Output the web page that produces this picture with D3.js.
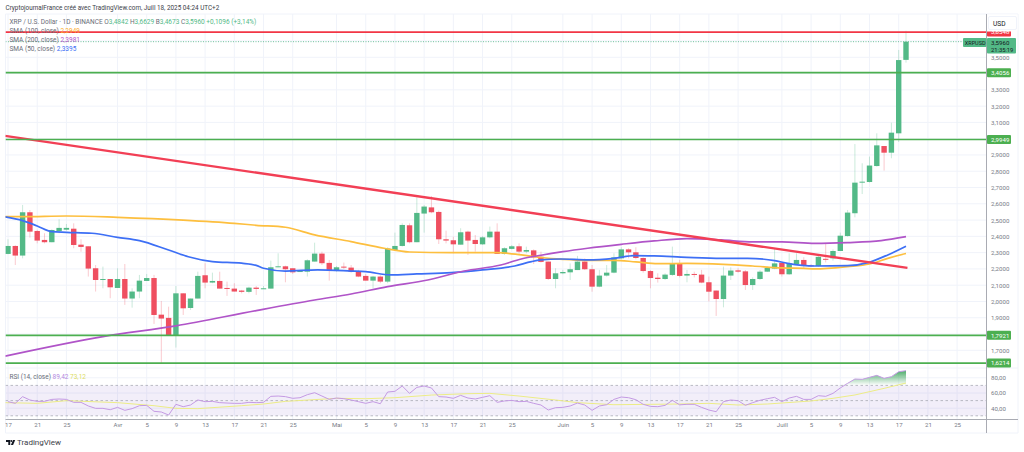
<!DOCTYPE html>
<html lang="fr">
<head>
  <meta charset="UTF-8">
  <title>XRP / U.S. Dollar</title>
  <script src="https://d3js.org/d3.v7.min.js"></script>
  <style>
    html, body { margin: 0; padding: 0; background: #fff; overflow: hidden; }
    svg { display: block; }
    text { font-family: Roboto, sans-serif; }
    .axis path, .axis line { display: none; }
    .axis text { font-size: 6.1px; fill: #787b86; font-family: Roboto, sans-serif; }
  </style>
</head>
<body>
  <script>
    // daily candles, one per day from 17 March (day 0) to 18 July (day 123)
    const opens = [
      2.292,2.341,2.282,2.548,2.433,2.378,2.364,2.433,2.441,2.447,
      2.349,2.339,2.204,2.132,2.138,2.083,2.138,2.018,2.061,2.126,
      2.144,1.919,1.899,1.788,2.050,1.960,2.018,2.161,2.116,2.126,
      2.083,2.079,2.067,2.059,2.085,2.077,2.079,2.210,2.216,2.204,
      2.183,2.183,2.245,2.294,2.237,2.187,2.214,2.208,2.183,2.157,
      2.128,2.153,2.122,2.316,2.341,2.468,2.364,2.540,2.578,2.550,
      2.382,2.376,2.349,2.429,2.378,2.351,2.394,2.429,2.292,2.323,
      2.339,2.306,2.314,2.275,2.245,2.138,2.173,2.179,2.193,2.245,
      2.198,2.091,2.159,2.177,2.265,2.320,2.302,2.267,2.187,2.146,
      2.138,2.163,2.234,2.159,2.169,2.165,2.118,2.067,2.015,2.159,
      2.191,2.185,2.101,2.138,2.183,2.202,2.238,2.167,2.229,2.255,
      2.222,2.218,2.262,2.265,2.310,2.402,2.542,2.732,2.734,2.832,
      2.955,2.914,3.033,3.4842];
    const highs = [
      2.382,2.345,2.593,2.562,2.440,2.419,2.443,2.505,2.476,2.480,
      2.382,2.339,2.224,2.214,2.138,2.204,2.230,2.081,2.163,2.169,
      2.163,2.003,1.968,2.095,2.050,2.018,2.183,2.235,2.177,2.183,
      2.122,2.112,2.071,2.091,2.095,2.095,2.251,2.296,2.220,2.204,
      2.190,2.259,2.361,2.306,2.255,2.218,2.239,2.224,2.194,2.169,
      2.157,2.161,2.333,2.423,2.480,2.480,2.640,2.593,2.648,2.558,
      2.435,2.398,2.450,2.435,2.408,2.402,2.460,2.480,2.333,2.347,
      2.357,2.337,2.320,2.306,2.245,2.204,2.194,2.234,2.280,2.265,
      2.224,2.194,2.224,2.296,2.333,2.327,2.333,2.271,2.193,2.173,
      2.173,2.337,2.255,2.194,2.183,2.194,2.153,2.067,2.214,2.210,
      2.204,2.193,2.148,2.193,2.214,2.327,2.245,2.296,2.296,2.272,
      2.230,2.286,2.353,2.320,2.423,2.562,2.967,2.849,2.890,3.033,
      2.955,3.098,3.545,3.6629];
    const lows = [
      2.290,2.224,2.265,2.392,2.357,2.357,2.364,2.419,2.435,2.327,
      2.306,2.153,2.061,2.081,2.020,2.083,1.979,1.962,2.020,2.126,
      1.862,1.620,1.788,1.717,1.917,1.948,2.018,2.081,2.112,2.079,
      2.034,2.061,2.050,2.050,2.040,2.077,2.079,2.210,2.118,2.169,
      2.181,2.153,2.245,2.224,2.128,2.183,2.200,2.177,2.149,2.128,
      2.081,2.112,2.112,2.316,2.337,2.357,2.364,2.423,2.542,2.353,
      2.357,2.296,2.349,2.286,2.306,2.347,2.388,2.292,2.286,2.320,
      2.292,2.296,2.230,2.239,2.132,2.081,2.167,2.132,2.193,2.193,
      2.060,2.087,2.153,2.173,2.259,2.265,2.259,2.177,2.081,2.116,
      2.132,2.157,2.148,2.118,2.148,2.112,2.000,1.911,1.964,2.132,
      2.177,2.071,2.071,2.132,2.181,2.198,2.153,2.163,2.224,2.204,
      2.212,2.214,2.240,2.251,2.310,2.398,2.517,2.660,2.730,2.828,
      2.804,2.880,2.980,3.4673];
    const closes = [
      2.341,2.282,2.548,2.429,2.374,2.364,2.439,2.452,2.452,2.347,
      2.335,2.202,2.132,2.138,2.087,2.138,2.018,2.061,2.128,2.144,
      1.917,1.895,1.788,2.050,1.958,2.018,2.157,2.116,2.126,2.079,
      2.079,2.061,2.059,2.085,2.077,2.081,2.210,2.216,2.198,2.179,
      2.187,2.253,2.294,2.235,2.187,2.210,2.208,2.183,2.153,2.128,
      2.153,2.122,2.325,2.341,2.470,2.364,2.544,2.583,2.548,2.382,
      2.374,2.351,2.425,2.374,2.353,2.394,2.429,2.292,2.327,2.339,
      2.306,2.316,2.271,2.243,2.138,2.173,2.181,2.198,2.245,2.198,
      2.091,2.159,2.177,2.271,2.320,2.302,2.267,2.187,2.144,2.138,
      2.165,2.234,2.157,2.169,2.165,2.116,2.060,2.015,2.159,2.190,
      2.183,2.101,2.138,2.183,2.206,2.234,2.167,2.234,2.255,2.218,
      2.216,2.274,2.258,2.310,2.404,2.546,2.730,2.736,2.835,2.959,
      2.914,3.037,3.483,3.596];

    // moving averages at the days listed
    const sma50Days = [-0.4,2,4,6,8,11.5,15,18,22,24.7,28,32,34,35,38,42.4,47,49,52.4,56,60.7,65,69.4,71.7,73,75.7,79.4,83,85.8,88.5,93,97.7,101.3,105,106.8,110.5,115,117.8,120.5,123];
    const sma50 = [2.520,2.497,2.464,2.429,2.425,2.419,2.394,2.374,2.316,2.275,2.245,2.235,2.222,2.204,2.187,2.194,2.187,2.183,2.163,2.169,2.177,2.194,2.218,2.245,2.255,2.261,2.255,2.265,2.282,2.280,2.271,2.265,2.265,2.251,2.234,2.218,2.220,2.239,2.286,2.3395];
    const sma100Days = [-0.4,2,8,15,24,31,34,38,42,47,51.5,55,60.7,67,70.3,73,76,79,83,86,89,93,98,102,106,109,110.5,115,118,120.5,123];
    const sma100 = [2.521,2.521,2.525,2.517,2.500,2.480,2.468,2.456,2.409,2.368,2.327,2.304,2.300,2.300,2.286,2.270,2.259,2.253,2.253,2.243,2.232,2.234,2.228,2.218,2.206,2.203,2.200,2.214,2.230,2.265,2.2949];
    const sma200Days = [-0.4,13,23,34,42,47,52,57.5,62.5,67.5,70.3,73,76,79.4,84,88.5,93,97.7,102,106,110.5,115,119.6,123];
    const sma200 = [1.664,1.784,1.850,1.944,2.009,2.046,2.091,2.132,2.187,2.224,2.261,2.284,2.306,2.327,2.351,2.372,2.386,2.378,2.366,2.366,2.357,2.362,2.374,2.3981];

    // drawn trend line and horizontal levels
    const trendDays = [-0.4, 123.2];
    const trendPrices = [3.017, 2.206];
    const greenLevels = [3.4056, 2.9949, 1.7921, 1.6214];
    const redLevel = 3.6548;
    const lastPrice = 3.596;

    // RSI pane
    const rsi = [
      48.6,46.4,55.2,50.8,49.0,49.0,51.6,52.1,51.6,47.7,47.7,42.9,39.8,39.8,38.0,41.1,37.2,39.4,43.3,43.7,
      35.9,35.0,31.0,45.1,42.0,44.2,50.8,48.6,49.0,47.3,46.8,46.4,46.4,47.7,47.3,47.7,55.6,56.0,55.2,53.0,
      53.8,57.8,60.4,56.0,51.6,53.4,52.5,50.8,48.6,46.4,48.6,45.9,61.3,62.2,69.2,59.5,67.4,69.2,66.6,55.2,
      54.7,53.0,56.9,53.4,52.1,54.3,56.5,47.7,49.5,50.3,48.6,49.0,46.4,44.2,37.6,40.7,41.1,42.9,46.8,44.2,
      37.2,42.9,44.6,51.6,54.7,53.8,51.2,45.1,42.4,42.0,43.7,50.3,44.4,45.1,45.1,41.1,37.6,35.4,48.6,50.8,
      49.9,43.8,47.3,50.4,52.5,54.3,48.6,53.4,55.6,51.6,51.6,56.5,55.6,59.5,66.6,72.7,78.4,78.0,80.6,83.2,
      79.3,81.5,88.0,89.42];
    const rsiMaDays = [-0.4,4,8,15,20,23,26,32,35,38,45,49,53,58,63,66,70,75,78,83,88,92,96,100,104,110,113,116,120,123];
    const rsiMa = [47.3,46.4,49.9,47.3,43.3,39.8,39.4,43.3,45.5,49.0,53.0,52.5,53.8,57.3,59.1,59.5,56.0,50.8,47.3,44.6,45.1,45.5,46.4,44.2,45.5,49.5,53.0,57.4,66.1,73.12];
    const rsiBands = [70, 50, 30];
    const rsiTicks = [80, 60, 40];

    // time axis
    const dayTicks = [0,4,8,15,19,23,27,31,35,39,45,49,53,57,61,65,69,76,80,84,88,92,96,100,106,110,114,118,122,126,130];
    const dayLabels = ["17","21","25","Avr","5","9","13","17","21","25","Mai","5","9","13","17","21","25","Juin","5","9","13","17","21","25","Juill","5","9","13","17","21","25"];

    // price axis
    const priceGrid = [3.6,3.5,3.4,3.3,3.2,3.1,3.0,2.9,2.8,2.7,2.6,2.5,2.4,2.3,2.2,2.1,2.0,1.9,1.8,1.7];
    const priceLabels = [3.5,3.3,3.2,3.1,2.9,2.8,2.7,2.6,2.5,2.4,2.3,2.2,2.1,2.0,1.9,1.7];

    const width = 1024, height = 452;
    const plotLeft = 5.5, plotRight = 986.5, plotTop = 14, paneBottom = 419.5, frameBottom = 433, frameRight = 1018;
    const green = "#53b987", red = "#ef4f60", levelGreen = "#4caf50", gridColor = "#f0f3fa";
    const comma = d => d.toFixed(4).replace(".", ",");

    const x = d3.scaleLinear().domain([0, 123]).range([8, 906]);
    const y = d3.scaleLinear().domain([1.7, 3.5]).range([350.3, 57.3]);
    const yRsi = d3.scaleLinear().domain([30, 70]).range([415.8, 385.4]);

    const svg = d3.select("body").append("svg")
      .attr("width", width)
      .attr("height", height);

    const defs = svg.append("defs");
    defs.append("clipPath").attr("id", "plot")
      .append("rect")
      .attr("x", plotLeft).attr("y", plotTop)
      .attr("width", plotRight - plotLeft).attr("height", 354);
    defs.append("clipPath").attr("id", "rsi-plot")
      .append("rect")
      .attr("x", plotLeft).attr("y", 368)
      .attr("width", plotRight - plotLeft).attr("height", paneBottom - 368);
    const fade = defs.append("linearGradient").attr("id", "overbought")
      .attr("x1", 0).attr("x2", 0).attr("y1", 0).attr("y2", 1);
    fade.append("stop").attr("offset", "0%").attr("stop-color", "#2e9e4f").attr("stop-opacity", 0.85);
    fade.append("stop").attr("offset", "100%").attr("stop-color", "#2e9e4f").attr("stop-opacity", 0);

    // frame
    svg.append("path")
      .attr("d", `M${plotLeft},${plotTop}H${frameRight}V${frameBottom}H${plotLeft}Z`)
      .attr("fill", "none").attr("stroke", gridColor);

    // grid
    const grid = svg.append("g").attr("stroke", gridColor).attr("stroke-width", 1);
    grid.selectAll(".vgrid").data(dayTicks).enter().append("line")
      .attr("x1", d => x(d)).attr("x2", d => x(d))
      .attr("y1", plotTop).attr("y2", paneBottom);
    grid.selectAll(".hgrid").data(priceGrid).enter().append("line")
      .attr("x1", plotLeft).attr("x2", plotRight)
      .attr("y1", d => y(d)).attr("y2", d => y(d));
    grid.selectAll(".rgrid").data(rsiTicks).enter().append("line")
      .attr("x1", plotLeft).attr("x2", plotRight)
      .attr("y1", d => yRsi(d)).attr("y2", d => yRsi(d));

    // price pane
    const plot = svg.append("g").attr("clip-path", "url(#plot)");
    const candles = d3.range(opens.length).map(i => ({ i, o: opens[i], h: highs[i], l: lows[i], c: closes[i] }));

    plot.selectAll(".wick").data(candles).enter().append("line")
      .attr("x1", d => x(d.i)).attr("x2", d => x(d.i))
      .attr("y1", d => y(d.h)).attr("y2", d => y(d.l))
      .attr("stroke", d => d.c >= d.o ? green : red)
      .attr("stroke-opacity", 0.3)
      .attr("stroke-width", 1);

    plot.selectAll(".body").data(candles).enter().append("rect")
      .attr("x", d => x(d.i) - 2.7)
      .attr("width", 5.4)
      .attr("y", d => y(Math.max(d.o, d.c)))
      .attr("height", d => Math.max(1, Math.abs(y(d.o) - y(d.c))))
      .attr("fill", d => d.c >= d.o ? green : red);

    const curve = d3.line().x(d => x(d[0])).y(d => y(d[1])).curve(d3.curveMonotoneX);
    const drawCurve = (days, values, color, w) => plot.append("path")
      .attr("d", curve(d3.zip(days, values)))
      .attr("fill", "none").attr("stroke", color).attr("stroke-width", w)
      .attr("stroke-linejoin", "round");

    drawCurve(sma100Days, sma100, "#fdbf3f", 1.7);
    drawCurve(sma50Days, sma50, "#3d6ff5", 1.7);
    drawCurve(sma200Days, sma200, "#b054c8", 1.7);
    drawCurve(trendDays, trendPrices, "#f23f55", 2.4);

    // last price, dotted
    plot.append("line")
      .attr("x1", plotLeft).attr("x2", plotRight)
      .attr("y1", y(lastPrice)).attr("y2", y(lastPrice))
      .attr("stroke", green).attr("stroke-width", 0.8).attr("stroke-dasharray", "1 1.5");

    plot.selectAll(".level").data(greenLevels).enter().append("line")
      .attr("x1", plotLeft).attr("x2", plotRight)
      .attr("y1", d => y(d)).attr("y2", d => y(d))
      .attr("stroke", levelGreen).attr("stroke-width", 1.7);

    plot.append("line")
      .attr("x1", plotLeft).attr("x2", plotRight)
      .attr("y1", y(redLevel)).attr("y2", y(redLevel))
      .attr("stroke", "#f23645").attr("stroke-width", 1.7);

    // RSI pane
    svg.append("line")
      .attr("x1", plotLeft).attr("x2", frameRight)
      .attr("y1", 368).attr("y2", 368)
      .attr("stroke", gridColor);

    const rsiPlot = svg.append("g").attr("clip-path", "url(#rsi-plot)");
    rsiPlot.append("rect")
      .attr("x", plotLeft).attr("width", plotRight - plotLeft)
      .attr("y", yRsi(70)).attr("height", yRsi(30) - yRsi(70))
      .attr("fill", "#7e57c2").attr("fill-opacity", 0.1);
    rsiPlot.selectAll(".band").data(rsiBands).enter().append("line")
      .attr("x1", plotLeft).attr("x2", plotRight)
      .attr("y1", d => yRsi(d)).attr("y2", d => yRsi(d))
      .attr("stroke", "#9a9ca6").attr("stroke-opacity", 0.75)
      .attr("stroke-dasharray", "2.5 2.5").attr("stroke-width", 0.9);

    const overbought = rsi.map((v, i) => [i, v]).filter(d => d[0] >= 114);
    rsiPlot.append("path")
      .attr("d", d3.area().x(d => x(d[0])).y0(d => yRsi(70)).y1(d => yRsi(Math.max(d[1], 70)))(overbought))
      .attr("fill", "url(#overbought)");

    rsiPlot.append("path")
      .attr("d", d3.line().x(d => x(d[0])).y(d => yRsi(d[1]))(d3.zip(rsiMaDays, rsiMa)))
      .attr("fill", "none").attr("stroke", "#ecec86").attr("stroke-width", 1);
    rsiPlot.append("path")
      .attr("d", d3.line().x((d, i) => x(i)).y(d => yRsi(d))(rsi))
      .attr("fill", "none").attr("stroke", "#c49ae3").attr("stroke-width", 1);

    // axes
    svg.append("g").attr("class", "axis")
      .attr("transform", `translate(0,${paneBottom + 2.5})`)
      .call(d3.axisBottom(x).tickValues(dayTicks).tickSize(0).tickPadding(1)
        .tickFormat((d, i) => dayLabels[i]));

    svg.append("g").attr("class", "axis")
      .attr("transform", `translate(${plotRight + 3.5},0)`)
      .call(d3.axisRight(y).tickValues(priceLabels).tickSize(0).tickPadding(1).tickFormat(comma));

    svg.append("g").attr("class", "axis")
      .attr("transform", `translate(${plotRight + 3.5},0)`)
      .call(d3.axisRight(yRsi).tickValues(rsiTicks).tickSize(0).tickPadding(1)
        .tickFormat(d => d.toFixed(2).replace(".", ",")));

    svg.append("line")
      .attr("x1", plotRight).attr("x2", plotRight).attr("y1", plotTop).attr("y2", frameBottom)
      .attr("stroke", "#a9abb3").attr("stroke-width", 1);
    svg.append("line")
      .attr("x1", plotLeft).attr("x2", frameRight).attr("y1", paneBottom).attr("y2", paneBottom)
      .attr("stroke", "#a9abb3").attr("stroke-width", 1);

    // price badges
    const badge = (val, color, w, label) => {
      svg.append("rect")
        .attr("x", plotRight + 0.5).attr("y", y(val) - 4.5)
        .attr("width", w).attr("height", 9).attr("rx", 1)
        .attr("fill", color);
      svg.append("text")
        .attr("x", plotRight + 4.5).attr("y", y(val) + 2.2)
        .attr("font-size", 6.1).attr("fill", "#fff").text(label);
    };
    badge(redLevel, "#f23645", 24, comma(redLevel));
    greenLevels.forEach(d => badge(d, levelGreen, 24, comma(d)));

    // last price tag
    svg.append("rect").attr("x", 963).attr("y", 38).attr("width", 23.5).attr("height", 9).attr("rx", 1).attr("fill", green);
    svg.append("text").attr("x", 964.8).attr("y", 44.6).attr("font-size", 5.5).attr("fill", "#131722").text("XRPUSD");
    svg.append("rect").attr("x", plotRight + 0.5).attr("y", 38).attr("width", 29).attr("height", 15.5).attr("rx", 1).attr("fill", green);
    svg.append("text").attr("x", plotRight + 4.5).attr("y", 44.5).attr("font-size", 6.1).attr("fill", "#131722").text("3,5960");
    svg.append("text").attr("x", plotRight + 4.5).attr("y", 51.5).attr("font-size", 5.8).attr("fill", "#131722").text("21:35:19");

    // currency button, it hides the top of the red badge
    svg.append("rect").attr("x", plotRight + 0.5).attr("y", 14.5).attr("width", frameRight - plotRight - 1).attr("height", 17)
      .attr("fill", "#fff");
    svg.append("rect").attr("x", 988.5).attr("y", 16.5).attr("width", 28).attr("height", 13).attr("rx", 1.5)
      .attr("fill", "#fff").attr("stroke", gridColor);
    svg.append("text").attr("x", 993).attr("y", 25.8).attr("font-size", 6.6).attr("fill", "#131722").text("USD");

    // header and legends
    svg.append("text").attr("x", 5.5).attr("y", 10.3).attr("font-size", 6.35).attr("fill", "#3b3e48")
      .text("CryptojournalFrance créé avec TradingView.com, Juill 18, 2025 04:24 UTC+2");

    const legendRow = (yPos, parts) => {
      const t = svg.append("text").attr("x", 9.5).attr("y", yPos).attr("font-size", 6.5);
      parts.forEach(p => t.append("tspan").attr("fill", p[1]).text(p[0]));
    };
    const grey = "#6a6d78", up = "#53b987";
    legendRow(23.7, [["XRP / U.S. Dollar · 1D · BINANCE  O", grey], ["3,4842", up], [" H", grey], ["3,6629", up], [" B", grey], ["3,4673", up], [" C", grey], ["3,5960", up], [" +0,1096 (+3,14%)", up]]);
    legendRow(33, [["SMA (100, close)  ", grey], ["2,2949", "#fdae2b"]]);
    legendRow(42, [["SMA (200, close)  ", grey], ["2,3981", "#b054c8"]]);
    legendRow(50.7, [["SMA (50, close)  ", grey], ["2,3395", "#3d6ff5"]]);
    legendRow(378.5, [["RSI (14, close)  ", grey], ["89,42 ", "#b388e0"], [" 73,12", "#dddd66"]]);

    // TradingView mark
    const logo = svg.append("g").attr("fill", "#131722");
    logo.append("path").attr("d", "M6,440h4.2v5h-1.9v-3.1h-2.3Z");
    logo.append("circle").attr("cx", 11.3).attr("cy", 441).attr("r", 0.95);
    logo.append("path").attr("d", "M13,440h2.2l-2.1,5h-2.2Z");
    svg.append("text").attr("x", 17).attr("y", 445.3).attr("font-size", 8).attr("fill", "#3b3e48").text("TradingView");
  </script>
</body>
</html>
